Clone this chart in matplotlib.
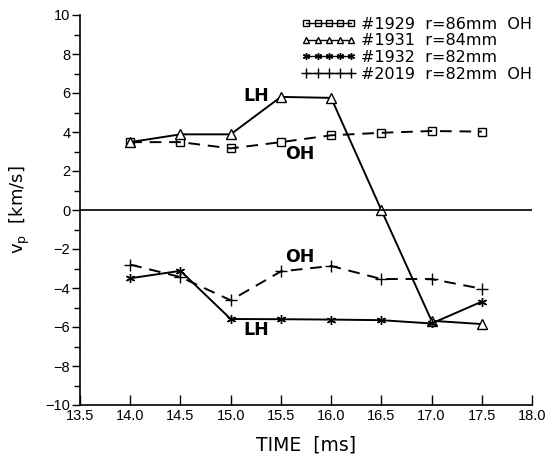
import matplotlib
matplotlib.use("Agg")
import matplotlib.pyplot as plt
from matplotlib.lines import Line2D
import numpy as np

# Time points (ms)
time_ms = [14.0, 14.5, 15.0, 15.5, 16.0, 16.5, 17.0, 17.5]

# Poloidal velocity v_p (km/s) per shot
v_1929 = [3.48, 3.48, 3.16, 3.48, 3.83, 3.96, 4.05, 4.02]      # r=86mm OH
v_1931 = [3.48, 3.88, 3.88, 5.80, 5.75, 0.0, -5.68, -5.85]     # r=84mm
v_1932 = [-3.50, -3.12, -5.59, -5.60, -5.62, -5.65, -5.82, -4.70]  # r=82mm
v_2019 = [-2.80, -3.44, -4.63, -3.15, -2.87, -3.54, -3.54, -4.04]  # r=82mm OH

labels = ["#1929  r=86mm  OH", "#1931  r=84mm", "#1932  r=82mm", "#2019  r=82mm  OH"]

x_ticks = [13.5, 14.0, 14.5, 15.0, 15.5, 16.0, 16.5, 17.0, 17.5, 18.0]
y_ticks = [-10, -8, -6, -4, -2, 0, 2, 4, 6, 8, 10]

plt.rcParams['font.family'] = ['Liberation Sans', 'DejaVu Sans']

fig = plt.figure(figsize=(5.47, 4.59), dpi=100)
ax = fig.add_axes([80 / 547, 1 - 405 / 459, (532 - 80) / 547, (405 - 15) / 459])

asterisk = (6, 2, 0)
lw = 1.4
dash = (0, (6, 4))

ax.plot(time_ms, v_1929, color='black', lw=lw, ls=dash, marker='s', ms=5.5,
        mfc='none', mec='black', mew=1.0)
ax.plot(time_ms, v_1931, color='black', lw=lw, ls='-', marker='^', ms=6.5,
        mfc='white', mec='black', mew=1.0)
ax.plot(time_ms, v_1932, color='black', lw=lw, ls='-', marker=asterisk, ms=6.5,
        mec='black', mew=1.0)
ax.plot(time_ms, v_2019, color='black', lw=lw, ls=dash, marker='+', ms=8,
        mec='black', mew=1.0)

ax.axhline(0, color='black', lw=1.2)

ax.set_xlim(13.5, 18.0)
ax.set_ylim(-10, 10)
ax.set_xticks(x_ticks)
ax.set_xticklabels([f"{t:.1f}" for t in x_ticks])
ax.set_yticks(y_ticks)
ax.set_yticks(np.arange(-9, 10, 2), minor=True)

for s in ['top', 'right']:
    ax.spines[s].set_visible(False)
for s in ['left', 'bottom']:
    ax.spines[s].set_linewidth(1.2)

ax.tick_params(axis='x', direction='in', length=7, width=1.0, labelsize=10.5, pad=3)
ax.tick_params(axis='y', which='major', direction='out', length=6, width=1.0, labelsize=10.5, pad=1)
ax.tick_params(axis='y', which='minor', direction='out', length=4, width=1.0)

dv = dict(family='DejaVu Sans')
ax.set_xlabel("TIME  [ms]", fontsize=13.5, labelpad=9, **dv)
ax.set_ylabel(r"$\mathrm{v_p}$  [km/s]", fontsize=13, labelpad=10, **dv)

# Regime annotations
bold = dict(fontsize=12.5, fontweight='bold', ha='center', va='center', **dv)
ax.text(15.25, 5.85, "LH", **bold)
ax.text(15.69, 2.85, "OH", **bold)
ax.text(15.69, -2.4, "OH", **bold)
ax.text(15.25, -6.15, "LH", **bold)

handles = [
    Line2D([], [], color='black', lw=1.0, marker='s', ms=5, mfc='none', mec='black'),
    Line2D([], [], color='black', lw=1.0, marker='^', ms=5, mfc='white', mec='black'),
    Line2D([], [], color='black', lw=1.0, marker=asterisk, ms=5, mec='black'),
    Line2D([], [], color='black', lw=1.0, marker='+', ms=7, mec='black'),
]
leg = ax.legend(handles, labels, loc='upper left', bbox_to_anchor=(0.476, 1.012),
                numpoints=5, handlelength=3.4, handletextpad=0.3, labelspacing=0.1,
                frameon=False, prop=dict(family='DejaVu Sans', size=11.5), borderaxespad=0)

fig.savefig("out.png", dpi=100)
